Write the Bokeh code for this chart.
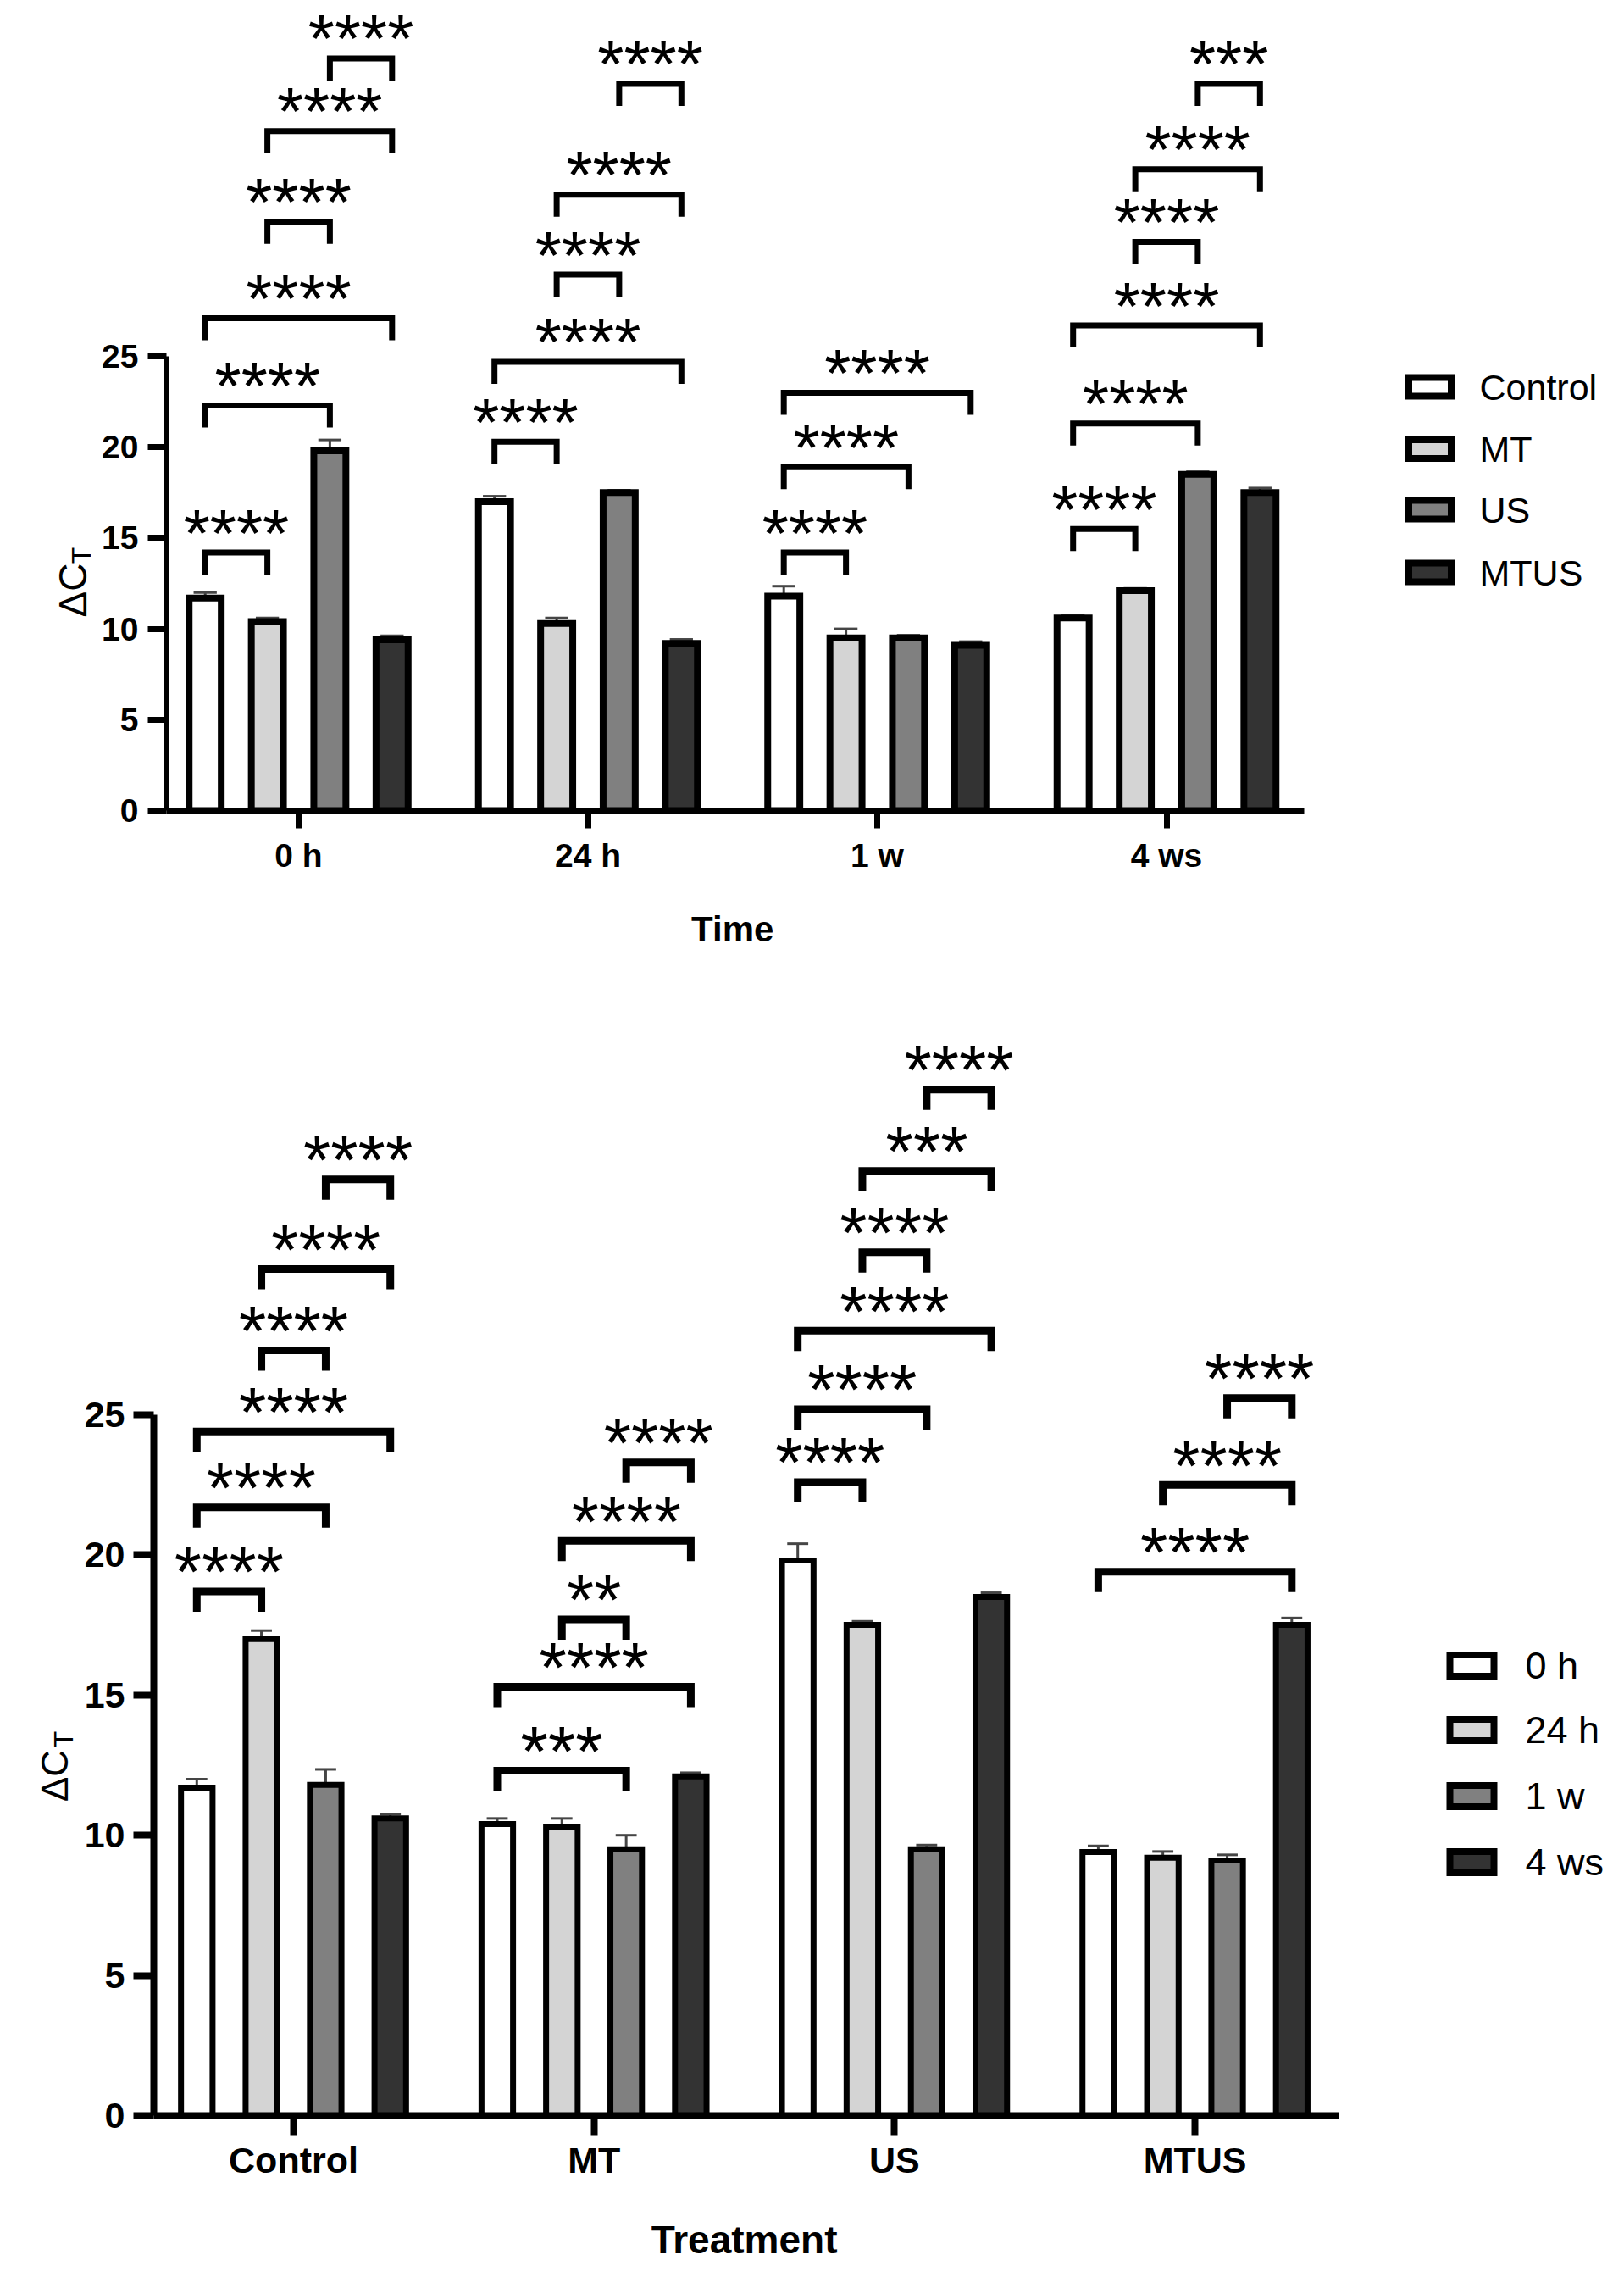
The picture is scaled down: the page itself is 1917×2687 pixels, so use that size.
import numpy as np
from math import pi
from bokeh.plotting import figure
from bokeh.models import Range1d, FixedTicker, Label, ColumnDataSource
from bokeh.layouts import column
from bokeh.core.properties import value
from bokeh.embed import file_html
from bokeh.resources import INLINE

# ---------------- data ----------------
times = ["0 h", "24 h", "1 w", "4 ws"]
treatments = ["Control", "MT", "US", "MTUS"]

# mean delta-CT per treatment, ordered by time (0 h, 24 h, 1 w, 4 ws)
control_mean = [11.7, 17.0, 11.8, 10.6]
mt_mean = [10.4, 10.3, 9.5, 12.1]
us_mean = [19.8, 17.5, 9.5, 18.5]
mtus_mean = [9.4, 9.2, 9.1, 17.5]
# error (upper bar) per treatment
control_err = [0.3, 0.3, 0.55, 0.15]
mt_err = [0.2, 0.3, 0.5, 0.13]
us_err = [0.6, 0.13, 0.15, 0.15]
mtus_err = [0.22, 0.22, 0.2, 0.25]

# significance brackets: (group, series a, series b, bracket level, label)
time_brackets = [
    (0, 0, 1, 14.2, "****"), (0, 0, 2, 22.3, "****"), (0, 0, 3, 27.1, "****"),
    (0, 1, 2, 32.4, "****"), (0, 1, 3, 37.4, "****"), (0, 2, 3, 41.4, "****"),
    (1, 0, 1, 20.3, "****"), (1, 0, 3, 24.7, "****"), (1, 1, 2, 29.5, "****"),
    (1, 1, 3, 33.9, "****"), (1, 2, 3, 40.0, "****"),
    (2, 0, 1, 14.2, "****"), (2, 0, 2, 18.9, "****"), (2, 0, 3, 23.0, "****"),
    (3, 0, 1, 15.5, "****"), (3, 0, 2, 21.3, "****"), (3, 0, 3, 26.7, "****"),
    (3, 1, 2, 31.3, "****"), (3, 1, 3, 35.3, "****"), (3, 2, 3, 40.0, "***"),
]
treatment_brackets = [
    (0, 0, 1, 18.7, "****"), (0, 0, 2, 21.7, "****"), (0, 0, 3, 24.4, "****"),
    (0, 1, 2, 27.3, "****"), (0, 1, 3, 30.2, "****"), (0, 2, 3, 33.4, "****"),
    (1, 0, 2, 12.3, "***"), (1, 0, 3, 15.3, "****"), (1, 1, 2, 17.7, "**"),
    (1, 1, 3, 20.5, "****"), (1, 2, 3, 23.3, "****"),
    (2, 0, 1, 22.6, "****"), (2, 0, 2, 25.2, "****"), (2, 0, 3, 28.0, "****"),
    (2, 1, 2, 30.8, "****"), (2, 1, 3, 33.7, "***"), (2, 2, 3, 36.6, "****"),
    (3, 0, 3, 19.4, "****"), (3, 1, 3, 22.5, "****"), (3, 2, 3, 25.6, "****"),
]

y_ticks = [0, 5, 10, 15, 20, 25]
y_axis_max = 25

# ---------------- styling / layout (pixels) ----------------
FONT = "Liberation Sans"
COLORS = ["#ffffff", "#d4d4d4", "#808080", "#333333"]
ERR_COLOR = "#454545"

means_by_treatment = np.array([control_mean, mt_mean, us_mean, mtus_mean])
errs_by_treatment = np.array([control_err, mt_err, us_err, mtus_err])

cfg_top = dict(
    W=1910, H=1158, ppu=341.5, gx0=352, ypu=21.44, y0px=956,
    yaxis_px=196, xend=3.476,
    offsets=[-0.323, -0.108, 0.108, 0.323], bw=0.111, lw=8, cap=0.04,
    leg_px=26, blw=7, star_size="80px", star_dy=-23,
    tick_size="39px", alw=7, xtick=21, ytick=22, xstand=10, ystand=11,
    xl_px=140, xl_size="42px",
    dc_x=85, dc_y=462, dc_size="46px", t_x=95, t_y=503, t_size="32px",
    lg_px=1687.5, lg_tpx=1746, lg_rows=[456, 529.5, 601, 675],
    lg_w=50, lg_h=22, lg_size="43px",
)
cfg_bot = dict(
    W=1910, H=1522, ppu=354.7, gx0=346, ypu=33.08, y0px=1338,
    yaxis_px=181, xend=3.479,
    offsets=[-0.322, -0.107, 0.107, 0.322], bw=0.105, lw=7, cap=0.035,
    leg_px=24, blw=9, star_size="83px", star_dy=-22,
    tick_size="43px", alw=8, xtick=24, ytick=24, xstand=4, ystand=10,
    xl_px=146, xl_size="46px",
    dc_x=64, dc_y=585, dc_size="44px", t_x=74, t_y=628, t_size="32px",
    lg_px=1737, lg_tpx=1800, lg_rows=[807, 883, 961, 1039],
    lg_w=52, lg_h=25, lg_size="45px",
)


def build(cfg, group_labels, series_labels, means, errs, brackets, xlabel):
    ng = len(group_labels)
    ns = len(series_labels)
    ppu, ypu, gx0, y0px = cfg["ppu"], cfg["ypu"], cfg["gx0"], cfg["y0px"]
    W, H = cfg["W"], cfg["H"]
    p = figure(width=W, height=H, output_backend="svg", toolbar_location=None,
               x_range=Range1d(-gx0 / ppu, (W - gx0) / ppu),
               y_range=Range1d(-(H - y0px) / ypu, y0px / ypu),
               min_border=0, min_border_left=0, min_border_right=0,
               min_border_top=0, min_border_bottom=0)
    p.outline_line_color = None
    p.xgrid.visible = False
    p.ygrid.visible = False

    gx = np.arange(ng, dtype=float)
    for s in range(ns):
        xs = gx + cfg["offsets"][s]
        top = np.asarray(means[s], dtype=float)
        hi = top + np.asarray(errs[s], dtype=float)
        src = ColumnDataSource(dict(x=xs, top=top, hi=hi,
                                    cl=xs - cfg["cap"], cr=xs + cfg["cap"]))
        p.segment(x0="x", y0="top", x1="x", y1="hi", source=src,
                  line_color=ERR_COLOR, line_width=3)
        p.segment(x0="cl", y0="hi", x1="cr", y1="hi", source=src,
                  line_color=ERR_COLOR, line_width=3)
        p.vbar(x="x", top="top", bottom=0, width=cfg["bw"], source=src,
               fill_color=COLORS[s], line_color="black",
               line_width=cfg["lw"], line_join="miter")

    leg = cfg["leg_px"] / ypu
    bxs, bys, tx, ty, tt = [], [], [], [], []
    for g, a, b, lvl, lab in brackets:
        xa = g + cfg["offsets"][a]
        xb = g + cfg["offsets"][b]
        bxs.append([xa, xa, xb, xb])
        bys.append([lvl - leg, lvl, lvl, lvl - leg])
        tx.append((xa + xb) / 2)
        ty.append(lvl)
        tt.append(lab)
    p.multi_line(xs=bxs, ys=bys, line_color="black", line_width=cfg["blw"],
                 line_join="miter", line_cap="butt")
    p.text(x=tx, y=ty, text=tt, text_font=value(FONT),
           text_font_size=cfg["star_size"], text_align="center",
           text_baseline="alphabetic", y_offset=cfg["star_dy"],
           text_color="black")

    # legend (swatches + labels)
    lx = (cfg["lg_px"] - gx0) / ppu
    ltx = (cfg["lg_tpx"] - gx0) / ppu
    ly = [(y0px - r) / ypu for r in cfg["lg_rows"][:ns]]
    lsrc = ColumnDataSource(dict(x=[lx] * ns, tx=[ltx] * ns, y=ly,
                                 c=COLORS[:ns], t=list(series_labels)))
    p.rect(x="x", y="y", width=cfg["lg_w"], height=cfg["lg_h"],
           width_units="screen", height_units="screen", fill_color="c",
           line_color="black", line_width=8, line_join="miter", source=lsrc)
    p.text(x="tx", y="y", text="t", source=lsrc, text_font=value(FONT),
           text_font_size=cfg["lg_size"], text_align="left",
           text_baseline="middle", text_color="black")

    # axes drawn at fixed data locations inside the frame
    yaxis_loc = (cfg["yaxis_px"] - gx0) / ppu
    xa = p.xaxis[0]
    xa.fixed_location = 0
    xa.bounds = (yaxis_loc, cfg["xend"])
    xa.ticker = FixedTicker(ticks=list(range(ng)))
    xa.major_label_overrides = {i: lab for i, lab in enumerate(group_labels)}
    xa.minor_tick_line_color = None
    xa.major_tick_in = 0
    xa.major_tick_out = cfg["xtick"]
    xa.axis_line_width = cfg["alw"]
    xa.major_tick_line_width = cfg["alw"]
    xa.axis_line_color = "black"
    xa.major_tick_line_color = "black"
    xa.major_label_text_font = FONT
    xa.major_label_text_font_style = "bold"
    xa.major_label_text_font_size = cfg["tick_size"]
    xa.major_label_text_color = "black"
    xa.major_label_standoff = cfg["xstand"]

    ya = p.yaxis[0]
    ya.fixed_location = yaxis_loc
    ya.bounds = (0, y_axis_max)
    ya.ticker = FixedTicker(ticks=y_ticks)
    ya.minor_tick_line_color = None
    ya.major_tick_in = 0
    ya.major_tick_out = cfg["ytick"]
    ya.axis_line_width = cfg["alw"]
    ya.major_tick_line_width = cfg["alw"]
    ya.axis_line_color = "black"
    ya.major_tick_line_color = "black"
    ya.major_label_text_font = FONT
    ya.major_label_text_font_style = "bold"
    ya.major_label_text_font_size = cfg["tick_size"]
    ya.major_label_text_color = "black"
    ya.major_label_standoff = cfg["ystand"]

    p.add_layout(Label(x=(ng - 1) / 2, y=-cfg["xl_px"] / ypu, x_units="data",
                       y_units="data", text=xlabel, text_font=FONT,
                       text_font_style="bold", text_font_size=cfg["xl_size"],
                       text_align="center", text_baseline="middle",
                       text_color="black"))
    p.add_layout(Label(x=cfg["dc_x"], y=cfg["dc_y"], x_units="screen",
                       y_units="screen", text="\u0394C", angle=pi / 2,
                       text_font=FONT, text_font_size=cfg["dc_size"],
                       text_align="center", text_baseline="alphabetic",
                       text_color="black"))
    p.add_layout(Label(x=cfg["t_x"], y=cfg["t_y"], x_units="screen",
                       y_units="screen", text="T", angle=pi / 2,
                       text_font=FONT, text_font_size=cfg["t_size"],
                       text_align="center", text_baseline="alphabetic",
                       text_color="black"))
    return p


# top: groups = times, series = treatments
p1 = build(cfg_top, times, treatments, means_by_treatment, errs_by_treatment,
           time_brackets, "Time")
# bottom: groups = treatments, series = times
p2 = build(cfg_bot, treatments, times, means_by_treatment.T,
           errs_by_treatment.T, treatment_brackets, "Treatment")

layout = column(p1, p2, spacing=0)
open("out.html", "w").write(file_html(layout, INLINE))
